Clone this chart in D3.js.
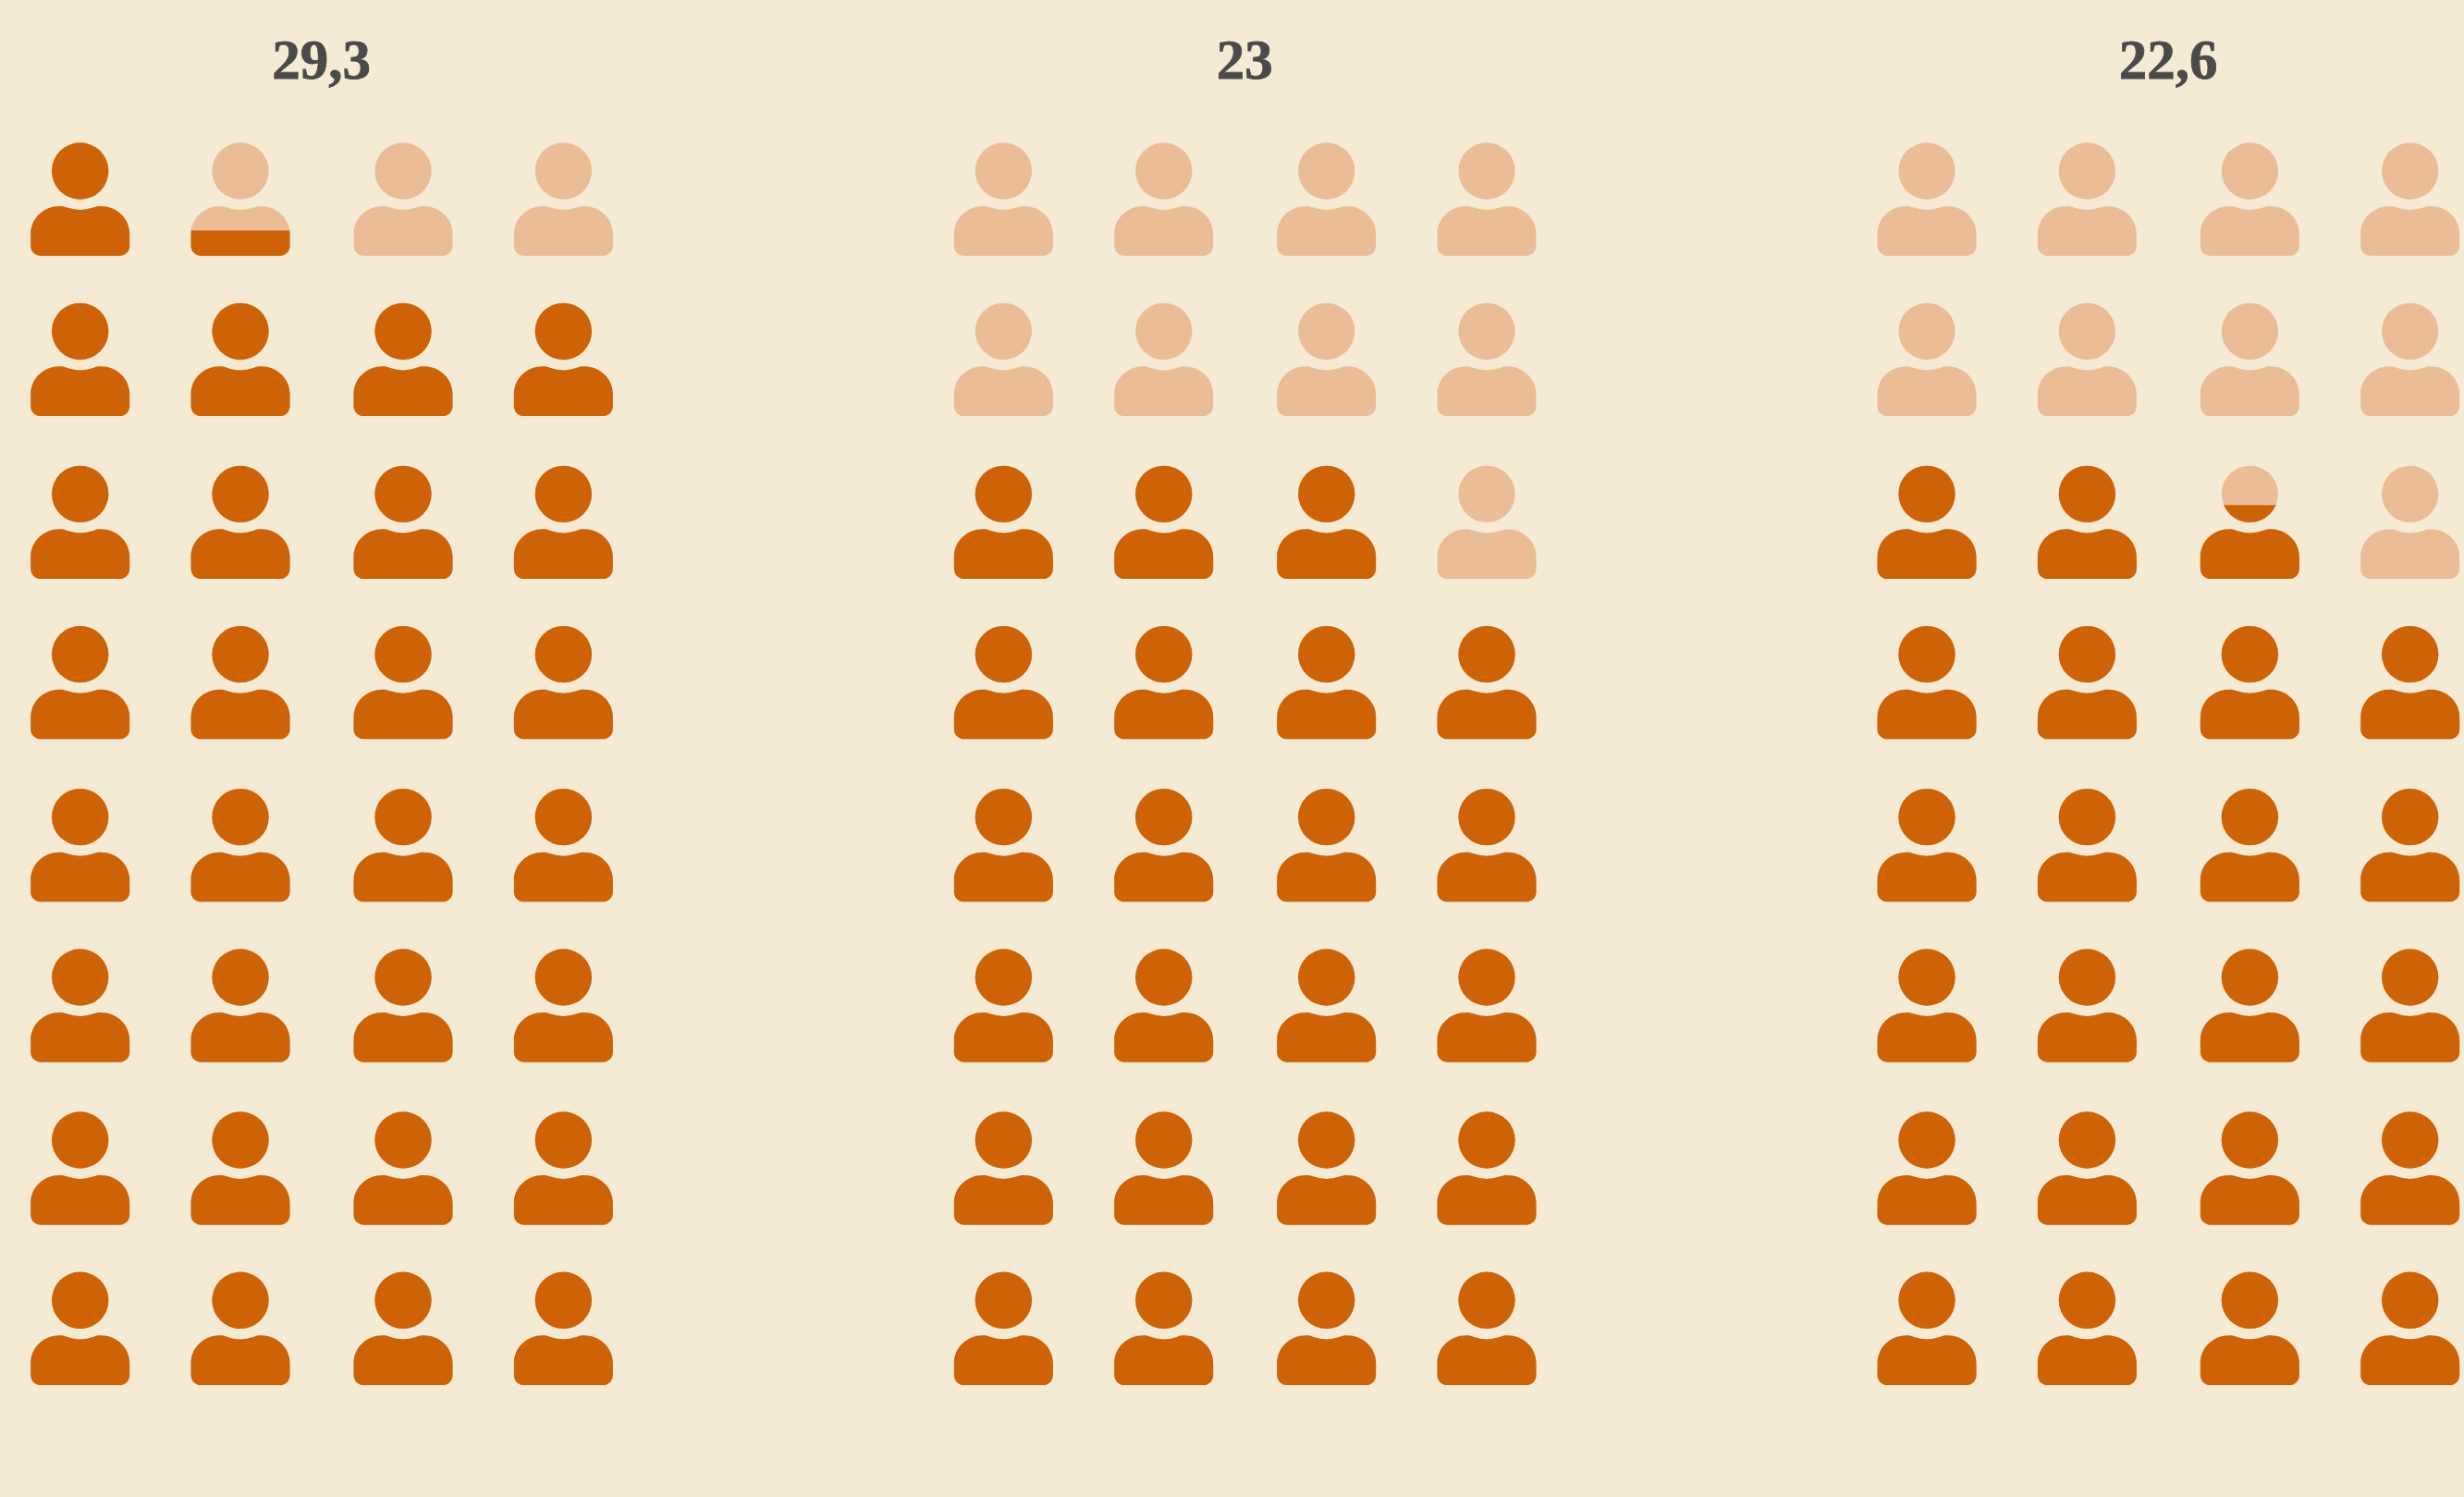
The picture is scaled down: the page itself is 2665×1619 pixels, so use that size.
<!DOCTYPE html>
<html>
  <head>
    <meta charset="utf-8">
    <style>
        html, body {
            margin: 0;
            background: #f5ebd4;
        }

        svg {
            display: block;
        }

        .title {
            font: bold 61px "Liberation Serif", serif;
            fill: #4a4a4a;
            stroke: #4a4a4a;
            stroke-width: 0.8px;
            text-anchor: middle;
        }
    </style>
    <script src="https://d3js.org/d3.v7.min.js" charset="utf-8"></script>
  </head>
  <body>
    <svg class="chart"></svg>
    <script>

      const labels = ["29,3", "23", "22,6"];
      const values = [29.3, 23, 22.6];
      const columns = [0, 1, 2, 3];
      const rows = [0, 1, 2, 3, 4, 5, 6, 7];

      const width = 2665, height = 1619;
      const svg = d3.select(".chart")
        .attr("width", width)
        .attr("height", height);

      // the cells come in pairs, so the pitch alternates
      const pitchA = 173.33, pitchB = 176;
      const step = i => Math.ceil(i / 2) * pitchA + Math.floor(i / 2) * pitchB;

      const groupX = d3.scalePoint().domain(d3.range(values.length)).range([0, 1997.33]);
      const colX = d3.scaleOrdinal().domain(columns).range(columns.map(c => 86.7 + step(c)));
      const rowY = d3.scaleOrdinal().domain(rows).range(rows.map(r => 185 + step(r)));

      // how much of one person is filled, measured on a cell a bit taller than the icon
      const cellH = 174.67;
      const fillY = d3.scaleLinear().domain([0, 1]).range([116.7, 116.7 - cellH]);

      const orange = "#ce6206", light = "#ebbd97";

      // person glyph around the centre of the head
      const headR = 30.7;
      const bodyPath = "M-53.5,68 C-53.5,51 -39.5,38 -22,38 C-18.5,38 -16.5,38.7 -14,39.6 " +
        "A42,42 0 0 0 14,39.6 C16.5,38.7 18.5,38 22,38 C39.5,38 53.5,51 53.5,68 " +
        "L53.5,81 A10.7,10.7 0 0 1 42.8,91.7 L-42.8,91.7 A10.7,10.7 0 0 1 -53.5,81 Z";

      function drawPerson(sel, color) {
        sel.append("circle")
          .attr("r", headR)
          .attr("fill", color);
        sel.append("path")
          .attr("d", bodyPath)
          .attr("fill", color);
      }

      const icons = [];
      values.forEach((v, g) => {
        rows.forEach(r => {
          columns.forEach(c => {
            // filling starts at the bottom row, left to right
            const order = (rows.length - 1 - r) * columns.length + c;
            icons.push({g: g, r: r, c: c, fill: Math.max(0, Math.min(1, v - order))});
          });
        });
      });

      svg.selectAll(".title").data(labels).enter()
        .append("text")
        .attr("class", "title")
        .attr("x", (d, i) => groupX(i) + 347.7)
        .attr("y", 85)
        .text(d => d);

      const defs = svg.append("defs");
      defs.selectAll("clipPath").data(icons).enter()
        .append("clipPath")
        .attr("id", (d, i) => "fill" + i)
        .append("rect")
        .attr("x", -70)
        .attr("width", 140)
        .attr("y", d => fillY(d.fill))
        .attr("height", d => fillY(0) - fillY(d.fill));

      const person = svg.selectAll(".person").data(icons).enter()
        .append("g")
        .attr("class", "person")
        .attr("transform", d => `translate(${groupX(d.g) + colX(d.c)}, ${rowY(d.r)})`);

      person.append("g").call(drawPerson, light);
      person.append("g")
        .attr("clip-path", (d, i) => `url(#fill${i})`)
        .call(drawPerson, orange);

    </script>
  </body>
</html>
